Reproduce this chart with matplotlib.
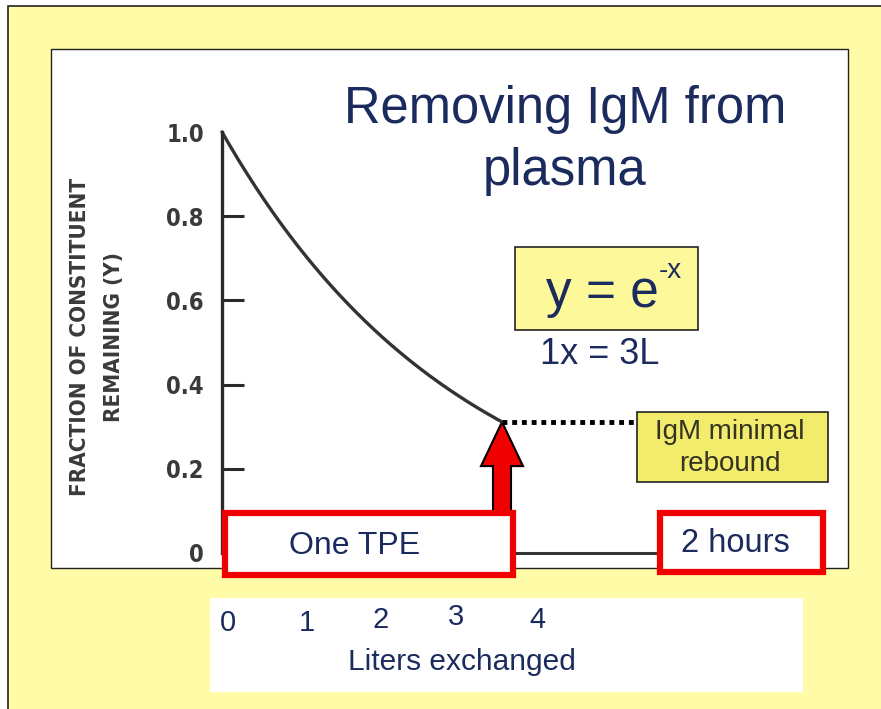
import numpy as np
import matplotlib
matplotlib.use("Agg")
import matplotlib.pyplot as plt
from matplotlib.patches import Rectangle, FancyArrow

# ---------------- DATA ----------------
liters_per_x = 3.0            # 1x = 3L
tpe_end = 3.5                 # liters exchanged in one TPE
curve_liters = np.linspace(0, tpe_end, 200)
curve_frac = np.exp(-curve_liters / liters_per_x)
rebound_end = 5.2             # where the dotted "minimal rebound" line runs to

y_ticks = [0, 0.2, 0.4, 0.6, 0.8, 1.0]
y_tick_labels = ["0", "0.2", "0.4", "0.6", "0.8", "1.0"]
x_tick_labels = ["0", "1", "2", "3", "4"]

# ---------------- STYLE ----------------
YELLOW = "#FFFBA6"
NAVY = "#1C2B5E"
RED = "#F00000"
GREY = "#3a3a3a"
plt.rcParams["font.family"] = ["Liberation Sans", "DejaVu Sans"]

W, H = 881, 709
fig = plt.figure(figsize=(W / 100, H / 100), dpi=100)
fig.patch.set_facecolor("white")

# background layer in pixel coords
bg = fig.add_axes([0, 0, 1, 1], zorder=0)
bg.set_xlim(0, W)
bg.set_ylim(H, 0)
bg.axis("off")
bg.add_patch(Rectangle((8, 6), 900, 720, facecolor=YELLOW, edgecolor="#222222", lw=1.2))
bg.add_patch(Rectangle((51, 49), 797, 519, facecolor="white", edgecolor="#222222", lw=1.0))
bg.add_patch(Rectangle((210, 598), 593, 94, facecolor="white", edgecolor="none"))

bg.text(97, 337, "FRACTION OF CONSTITUENT\nREMAINING (Y)", rotation=90,
        ha="center", va="center", fontsize=16, fontweight="bold",
        family="DejaVu Sans", fontstretch="condensed", color=GREY,
        linespacing=1.9)

# ---------------- CURVE ----------------
ax = fig.add_axes([222 / W, (H - 553) / H, 625 / W, 421 / H], zorder=1)
ax.patch.set_alpha(0)
ax.set_xlim(0, 625 / 80)
ax.set_ylim(0, 1.0)

ax.plot(curve_liters, curve_frac, color="#333333", lw=2.4, clip_on=False,
        solid_capstyle="round")
y_end = curve_frac[-1]
ax.plot([tpe_end, rebound_end], [y_end, y_end], color="black", lw=3.5,
        linestyle=(0, (1, 1)), clip_on=False)

ax.add_patch(FancyArrow(tpe_end, 0.097, 0, y_end - 0.097, width=0.225,
                        head_width=0.525, head_length=0.105,
                        length_includes_head=True, facecolor=RED,
                        edgecolor="black", lw=1.5, clip_on=False))

for s in ["top", "right"]:
    ax.spines[s].set_visible(False)
ax.spines["left"].set_linewidth(2.4)
ax.spines["left"].set_color("#2a2a2a")
ax.spines["bottom"].set_linewidth(2.2)
ax.spines["bottom"].set_color("#333333")
ax.spines["bottom"].set_bounds(0, 6.5)

ax.set_xticks([])
ax.set_yticks(y_ticks)
ax.set_yticklabels(y_tick_labels, fontsize=17, fontweight="bold",
                   family="DejaVu Sans", fontstretch="condensed", color=GREY)
ax.tick_params(axis="y", direction="in", length=16, width=2.2,
               color="#2a2a2a", pad=13)
ticks = ax.yaxis.get_major_ticks()
ticks[0].tick1line.set_visible(False)
ticks[-1].tick1line.set_visible(False)

# ---------------- OVERLAY ----------------
ov = fig.add_axes([0, 0, 1, 1], zorder=2)
ov.set_xlim(0, W)
ov.set_ylim(H, 0)
ov.axis("off")
ov.patch.set_alpha(0)

ov.text(565, 110, "Removing IgM from", ha="center", va="center",
        fontsize=36.5, color=NAVY)
ov.text(565, 172, "plasma", ha="center", va="center", fontsize=36.5, color=NAVY)

ov.add_patch(Rectangle((515, 247), 183, 83, facecolor="#FDF89A",
                       edgecolor="#222222", lw=1.2))
ov.text(659, 293, "y = e", ha="right", va="center", fontsize=37, color=NAVY)
ov.text(659, 271, "-x", ha="left", va="center", fontsize=20, color=NAVY)
ov.text(600, 355, "1x = 3L", ha="center", va="center", fontsize=26, color=NAVY)

ov.add_patch(Rectangle((637, 412), 191, 70, facecolor="#F2EB6C",
                       edgecolor="#222222", lw=1.2))
ov.text(730, 448, "IgM minimal\nrebound", ha="center", va="center",
        fontsize=20, color="#333322", linespacing=1.3)

ov.add_patch(Rectangle((225, 513), 288, 62, facecolor="white",
                       edgecolor=RED, lw=4.5))
ov.text(355, 546, "One TPE", ha="center", va="center", fontsize=23, color=NAVY)

ov.add_patch(Rectangle((660, 513), 163, 59, facecolor="white",
                       edgecolor=RED, lw=4.5))
ov.text(735, 544, "2 hours", ha="center", va="center", fontsize=23.5, color=NAVY)

x_lab_pos = [(228, 623), (307, 623), (381, 620), (456, 617), (537, 620)]
for lab, (px, py) in zip(x_tick_labels, x_lab_pos):
    ov.text(px, py, lab, ha="center", va="center", fontsize=21, color=NAVY)
ov.text(462, 662, "Liters exchanged", ha="center", va="center",
        fontsize=21.5, color=NAVY)

fig.savefig("out.png", dpi=100)
